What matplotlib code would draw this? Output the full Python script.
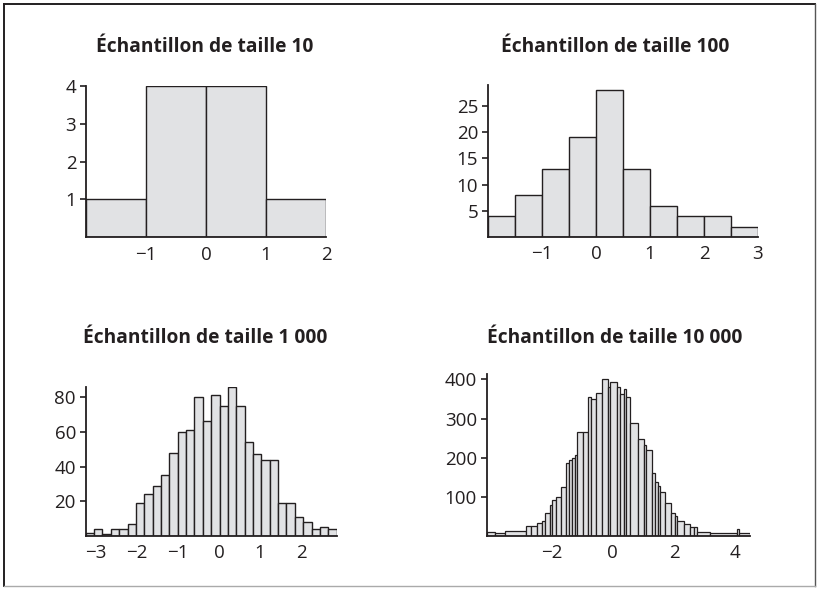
import numpy as np
import matplotlib
matplotlib.use('Agg')
import matplotlib.pyplot as plt
from matplotlib.lines import Line2D

plt.rcParams['font.family'] = ['Open Sans', 'DejaVu Sans']

# taille 10
edges_10 = [-2, -1, 0, 1, 2]
counts_10 = [1, 4, 4, 1]

# taille 100
edges_100 = [-2, -1.5, -1, -0.5, 0, 0.5, 1, 1.5, 2, 2.5, 3]
counts_100 = [4, 8, 13, 19, 28, 13, 6, 4, 4, 2]

# taille 1 000 (30 classes de -3.25 a 2.87)
range_1000 = (-3.25, 2.87)
counts_1000 = [2, 4, 1, 4, 4, 7, 19, 24, 29, 35, 48, 60, 61, 80, 66,
               81, 75, 86, 75, 54, 47, 44, 44, 19, 19, 11, 8, 4, 5, 4]

# taille 10 000
edges_10000 = [-4.11, -3.83, -3.51, -2.84, -2.66, -2.47, -2.31, -2.22, -2.06,
               -1.97, -1.86, -1.70, -1.51, -1.41, -1.32, -1.24, -1.15, -0.97,
               -0.81, -0.70, -0.56, -0.34, -0.15, -0.10, 0.14, 0.23, 0.36,
               0.42, 0.58, 0.83, 1.01, 1.10, 1.28, 1.37, 1.48, 1.54, 1.72,
               1.89, 2.03, 2.11, 2.33, 2.52, 2.66, 2.75, 3.17, 4.04, 4.13, 4.48]
counts_10000 = [9, 8, 12, 25, 25, 32, 39, 58, 79, 91, 100, 126, 187, 195, 200,
                206, 267, 267, 356, 349, 366, 401, 381, 394, 381, 362, 375, 354,
                289, 248, 233, 221, 160, 139, 128, 112, 85, 58, 50, 39, 30, 24,
                24, 9, 8, 18, 8]

titles = ['Échantillon de taille 10', 'Échantillon de taille 100',
          'Échantillon de taille 1 000', 'Échantillon de taille 10 000']

dark = '#231f20'
fill = '#e1e2e4'

fig = plt.figure(figsize=(8.19, 5.89), dpi=100)

def style(ax, xlim, ylim, xticks, yticks):
    ax.set_xlim(*xlim)
    ax.set_ylim(*ylim)
    ax.set_xticks(xticks)
    ax.set_yticks(yticks)
    for s in ['top', 'right']:
        ax.spines[s].set_visible(False)
    for s in ['left', 'bottom']:
        ax.spines[s].set_color(dark)
        ax.spines[s].set_linewidth(1.3)
    ax.tick_params(axis='x', length=0, pad=6, labelsize=13.5, colors=dark)
    ax.tick_params(axis='y', length=4, width=1.2, pad=3, labelsize=13.5, colors=dark)
    ax.patch.set_alpha(0)

def bars(ax, edges, counts, lw=1.0):
    edges = np.asarray(edges, dtype=float)
    ax.bar(edges[:-1], counts, width=np.diff(edges), align='edge',
           color=fill, edgecolor=dark, linewidth=lw)

ax1 = fig.add_axes([0.1050, 0.5971, 0.2930, 0.2569])
bars(ax1, edges_10, counts_10)
style(ax1, (-2, 2), (0, 4), [-1, 0, 1, 2], [1, 2, 3, 4])

ax2 = fig.add_axes([0.5958, 0.5976, 0.3297, 0.2581])
bars(ax2, edges_100, counts_100)
style(ax2, (-2, 3), (0, 29), [-1, 0, 1, 2, 3], [5, 10, 15, 20, 25])

ax3 = fig.add_axes([0.1046, 0.0900, 0.3065, 0.2535])
edges_1000 = np.linspace(range_1000[0], range_1000[1], len(counts_1000) + 1)
bars(ax3, edges_1000, counts_1000)
style(ax3, range_1000, (0, 86), [-3, -2, -1, 0, 1, 2], [20, 40, 60, 80])

ax4 = fig.add_axes([0.5943, 0.0900, 0.3215, 0.2750])
bars(ax4, edges_10000, counts_10000, lw=0.9)
style(ax4, (-4.11, 4.48), (0, 414), [-2, 0, 2, 4], [100, 200, 300, 400])

title_pos = [(205, 47), (615, 47), (205, 338), (615, 338)]
for t, (px, py) in zip(titles, title_pos):
    fig.text(px / 819, 1 - py / 589, t, ha='center', va='center',
             fontsize=13.8, fontweight='bold', color=dark)

# cadre
fig.add_artist(Line2D([4 / 819, 815 / 819], [1 - 4 / 589, 1 - 4 / 589], color=dark, lw=1.4))
fig.add_artist(Line2D([4 / 819, 4 / 819], [1 - 4 / 589, 1 - 586 / 589], color=dark, lw=1.4))
fig.add_artist(Line2D([815 / 819, 815 / 819], [1 - 4 / 589, 1 - 586 / 589], color='#555555', lw=1.0))
fig.add_artist(Line2D([4 / 819, 815 / 819], [1 - 586 / 589, 1 - 586 / 589], color='#aaaaaa', lw=1.0))

plt.savefig('out.png', dpi=100)
